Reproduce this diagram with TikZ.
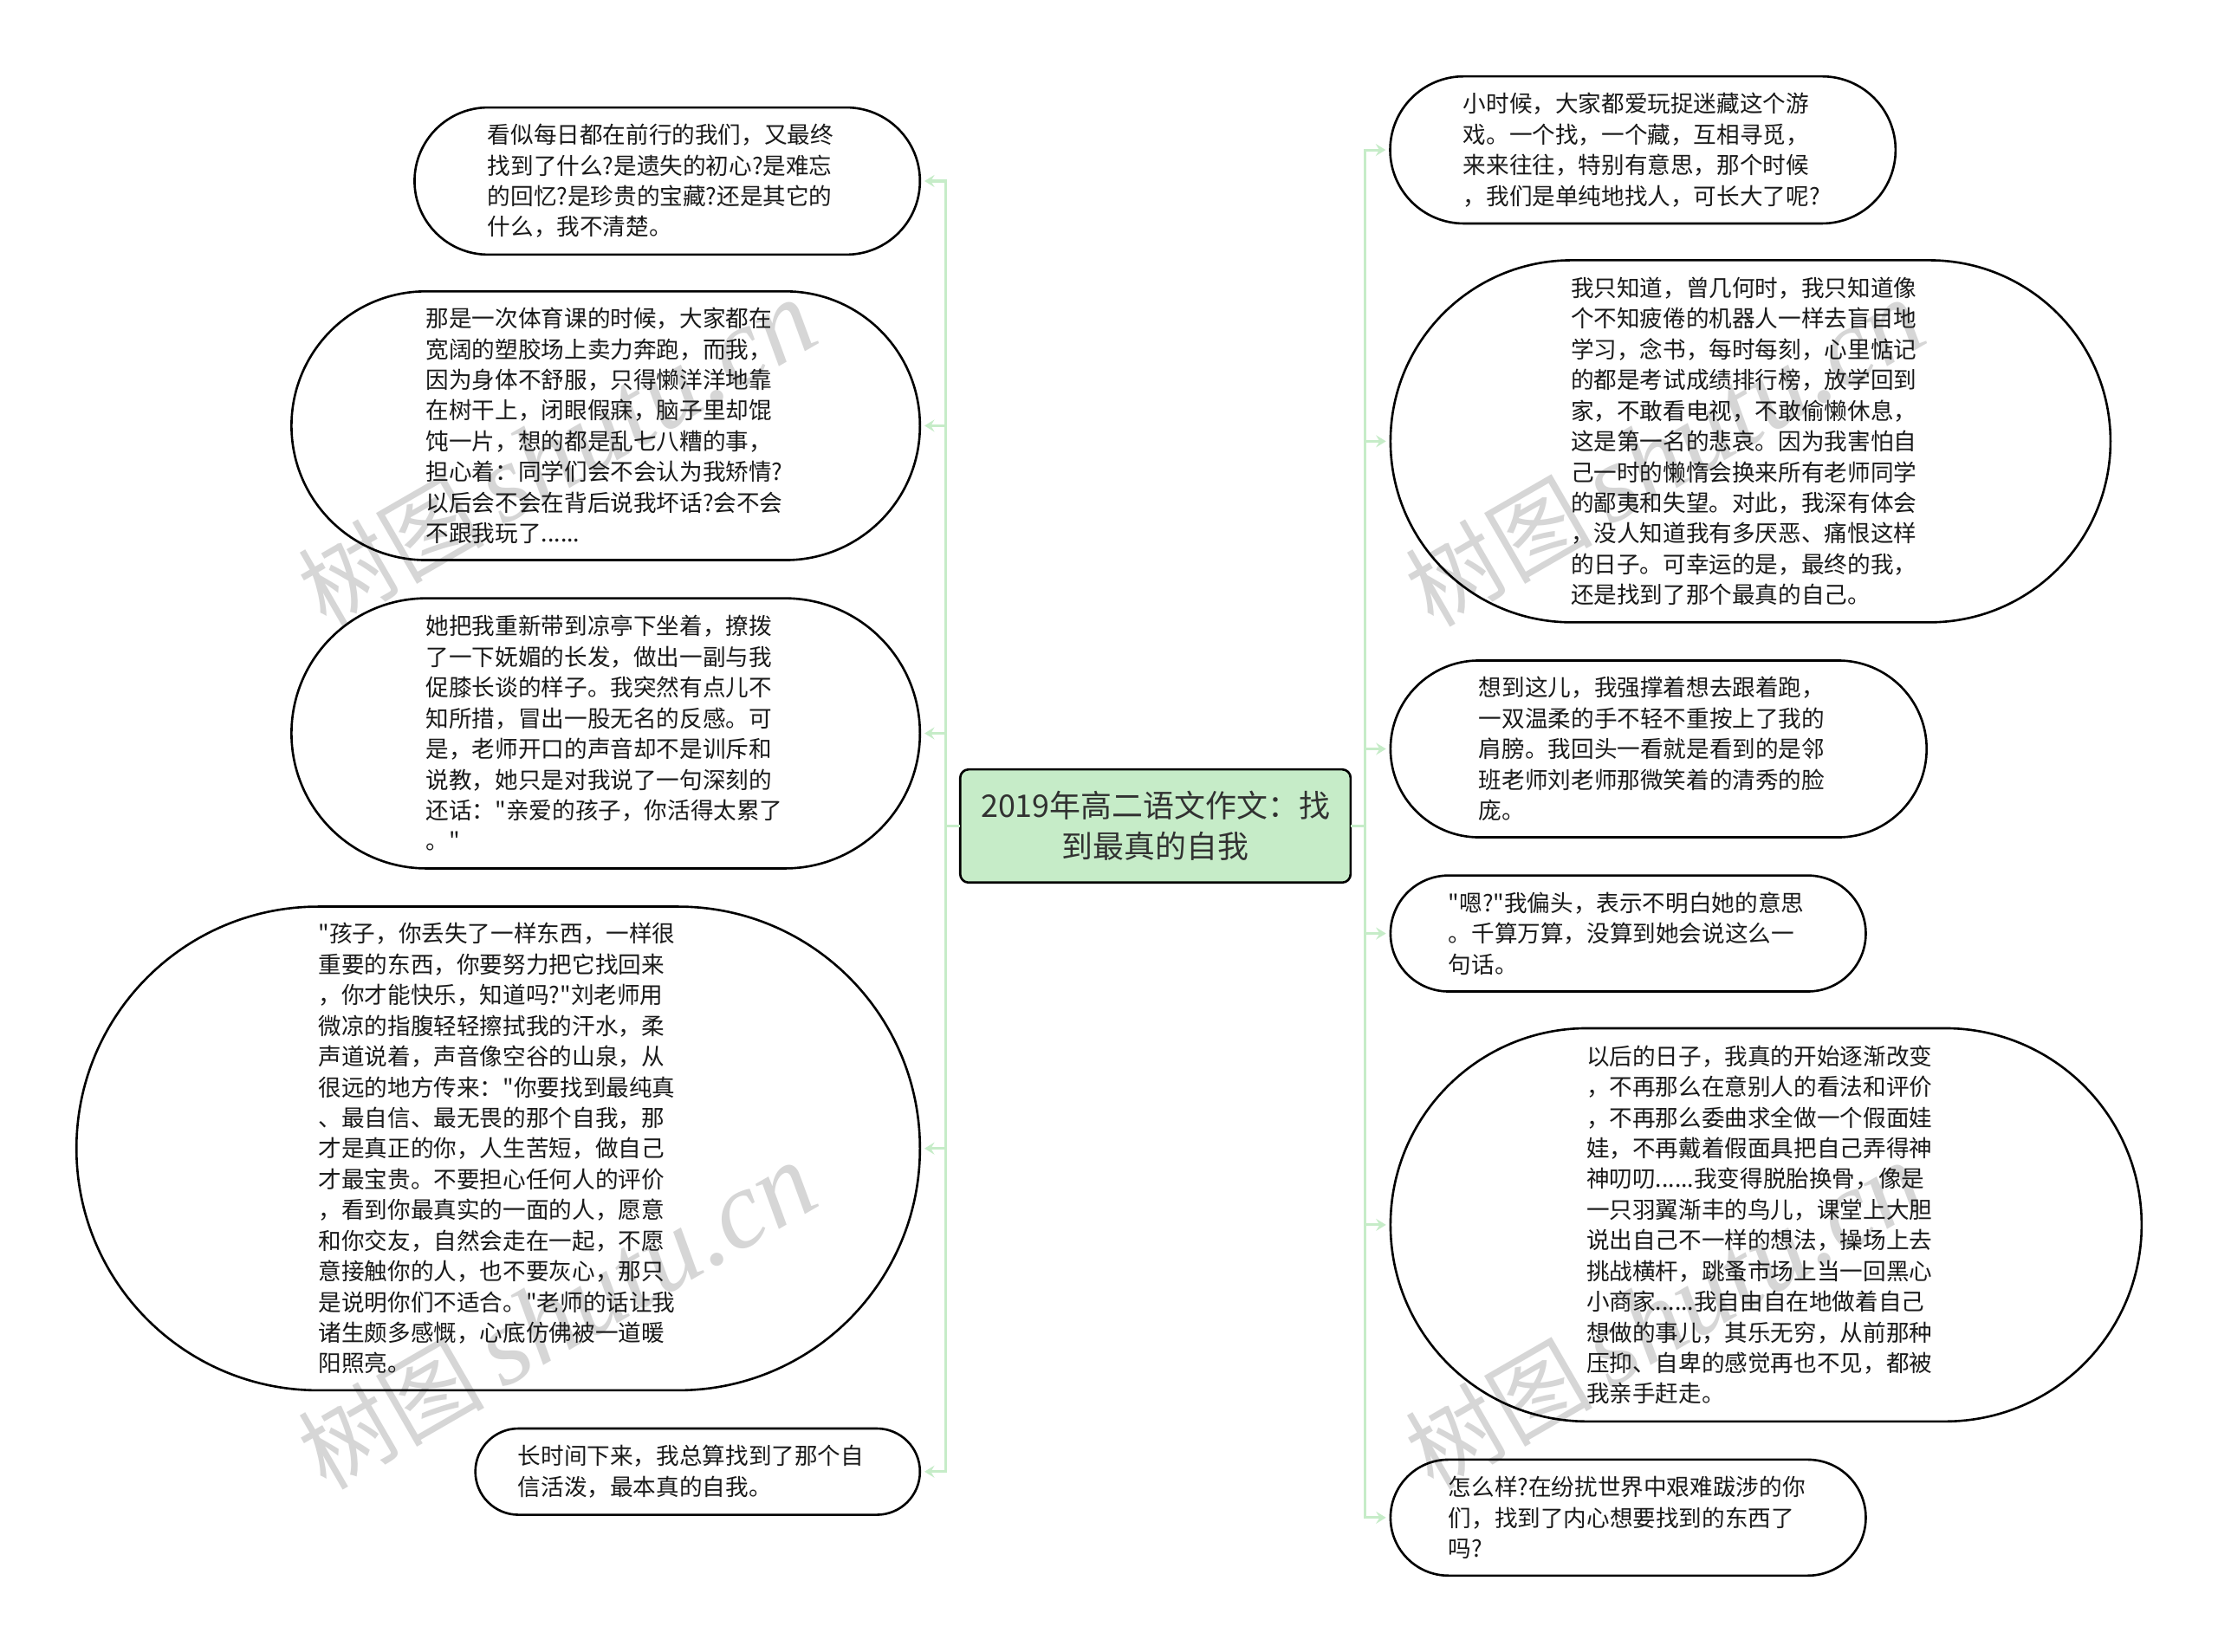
\documentclass[tikz,border=0pt]{standalone}
\usepackage{fontspec}
\usetikzlibrary{arrows.meta}
\newfontfamily\cjkfont{Noto Sans CJK SC}
\newfontfamily\wmlatin{Liberation Serif}[ItalicFont=* Italic]
\definecolor{linkgreen}{HTML}{C6ECC8}
\definecolor{rootgreen}{HTML}{C6ECC8}
\definecolor{wmgray}{HTML}{D6D6D6}
\definecolor{inkdark}{HTML}{1A1A1A}
\tikzset{
  bub/.style={draw=black,line width=1.6pt,inner sep=0pt,outer sep=0pt,
    text width=254pt,align=left,text=inkdark,
    font=\cjkfont\fontsize{16.3pt}{21.7pt}\selectfont},
  rootbox/.style={draw=black,line width=1.6pt,fill=rootgreen,rounded corners=6pt,
    inner sep=0pt,outer sep=0pt,text width=262pt,align=center,text=inkdark!90,
    font=\cjkfont\fontsize{22pt}{29pt}\selectfont},
  link/.style={draw=linkgreen,line width=1.9pt,
    -{Stealth[length=7pt,width=8.5pt,inset=2.5pt]},shorten >=3.2pt},
  stub/.style={draw=linkgreen,line width=1.9pt},
  wm/.style={text=wmgray,rotate=30,inner sep=0pt,
    font=\cjkfont\fontsize{66pt}{68pt}\selectfont}
}
\newcommand{\wmtext}{树图\hspace{12pt}{\wmlatin\itshape\fontsize{78pt}{78pt}\selectfont shutu.cn}}
\begin{document}
\begin{tikzpicture}[x=1pt,y=1pt]
\useasboundingbox (0,0) rectangle (1568,-1168);
\fill[white] (0,0) rectangle (1568,-1168);
% watermarks
\node[wm] (wa) at (394,-321) {\wmtext};
\node[wm] (wb) at (394,-931) {\wmtext};
\node[wm] (wc) at (1177,-321) {\wmtext};
\node[wm] (wd) at (1177,-931) {\wmtext};
% centre
\node[rootbox,minimum width=276pt,minimum height=80pt] (root) at (816.8,-584) {2019年高二语文作文：找\\到最真的自我};
% left
\node[bub,minimum width=357.3pt,minimum height=104pt,rounded corners=52pt] (L1) at (471.7,-128) {看似每日都在前行的我们，又最终\\找到了什么?是遗失的初心?是难忘\\的回忆?是珍贵的宝藏?还是其它的\\什么，我不清楚。};
\node[bub,minimum width=444.3pt,minimum height=190pt,rounded corners=95pt] (L2) at (428.2,-301) {那是一次体育课的时候，大家都在\\宽阔的塑胶场上卖力奔跑，而我，\\因为身体不舒服，只得懒洋洋地靠\\在树干上，闭眼假寐，脑子里却馄\\饨一片，想的都是乱七八糟的事，\\担心着：同学们会不会认为我矫情?\\以后会不会在背后说我坏话?会不会\\不跟我玩了......};
\node[bub,minimum width=444.3pt,minimum height=191pt,rounded corners=95.5pt] (L3) at (428.2,-518.5) {她把我重新带到凉亭下坐着，撩拨\\了一下妩媚的长发，做出一副与我\\促膝长谈的样子。我突然有点儿不\\知所措，冒出一股无名的反感。可\\是，老师开口的声音却不是训斥和\\说教，她只是对我说了一句深刻的\\还话："亲爱的孩子，你活得太累了\\。"};
\node[bub,minimum width=596.3pt,minimum height=342pt,rounded corners=171pt] (L4) at (352.2,-812) {"孩子，你丢失了一样东西，一样很\\重要的东西，你要努力把它找回来\\，你才能快乐，知道吗?"刘老师用\\微凉的指腹轻轻擦拭我的汗水，柔\\声道说着，声音像空谷的山泉，从\\很远的地方传来："你要找到最纯真\\、最自信、最无畏的那个自我，那\\才是真正的你，人生苦短，做自己\\才最宝贵。不要担心任何人的评价\\，看到你最真实的一面的人，愿意\\和你交友，自然会走在一起，不愿\\意接触你的人，也不要灰心，那只\\是说明你们不适合。"老师的话让我\\诸生颇多感慨，心底仿佛被一道暖\\阳照亮。};
\node[bub,minimum width=314.3pt,minimum height=61pt,rounded corners=30.5pt] (L5) at (493.2,-1040.5) {长时间下来，我总算找到了那个自\\信活泼，最本真的自我。};
% right
\node[bub,minimum width=357.3pt,minimum height=104pt,rounded corners=52pt] (R1) at (1161.4,-106) {小时候，大家都爱玩捉迷藏这个游\\戏。一个找，一个藏，互相寻觅，\\来来往往，特别有意思，那个时候\\，我们是单纯地找人，可长大了呢?};
\node[bub,minimum width=509pt,minimum height=256pt,rounded corners=128pt] (R2) at (1237.5,-312) {我只知道，曾几何时，我只知道像\\个不知疲倦的机器人一样去盲目地\\学习，念书，每时每刻，心里惦记\\的都是考试成绩排行榜，放学回到\\家，不敢看电视，不敢偷懒休息，\\这是第一名的悲哀。因为我害怕自\\己一时的懒惰会换来所有老师同学\\的鄙夷和失望。对此，我深有体会\\，没人知道我有多厌恶、痛恨这样\\的日子。可幸运的是，最终的我，\\还是找到了那个最真的自己。};
\node[bub,minimum width=379pt,minimum height=125pt,rounded corners=62.5pt] (R3) at (1172.5,-529.5) {想到这儿，我强撑着想去跟着跑，\\一双温柔的手不轻不重按上了我的\\肩膀。我回头一看就是看到的是邻\\班老师刘老师那微笑着的清秀的脸\\庞。};
\node[bub,minimum width=336pt,minimum height=82pt,rounded corners=41pt] (R4) at (1151,-660) {"嗯?"我偏头，表示不明白她的意思\\。千算万算，没算到她会说这么一\\句话。};
\node[bub,minimum width=531pt,minimum height=278pt,rounded corners=139pt] (R5) at (1248.5,-866) {以后的日子，我真的开始逐渐改变\\，不再那么在意别人的看法和评价\\，不再那么委曲求全做一个假面娃\\娃，不再戴着假面具把自己弄得神\\神叨叨......我变得脱胎换骨，像是\\一只羽翼渐丰的鸟儿，课堂上大胆\\说出自己不一样的想法，操场上去\\挑战横杆，跳蚤市场上当一回黑心\\小商家......我自由自在地做着自己\\想做的事儿，其乐无穷，从前那种\\压抑、自卑的感觉再也不见，都被\\我亲手赶走。};
\node[bub,minimum width=336pt,minimum height=82pt,rounded corners=41pt] (R6) at (1151,-1073) {怎么样?在纷扰世界中艰难跋涉的你\\们，找到了内心想要找到的东西了\\吗?};
% trunks
\coordinate (tl) at (668.6,-584);
\coordinate (tr) at (964.8,-584);
\draw[stub] (root.west) -- (tl);
\draw[stub] (root.east) -- (tr);
\foreach \n in {L1,L2,L3,L4,L5}{
  \draw[link] (tl) -- (tl |- \n.east) -- (\n.east);
}
\foreach \n in {R1,R2,R3,R4,R5,R6}{
  \draw[link] (tr) -- (tr |- \n.west) -- (\n.west);
}
\end{tikzpicture}
\end{document}
